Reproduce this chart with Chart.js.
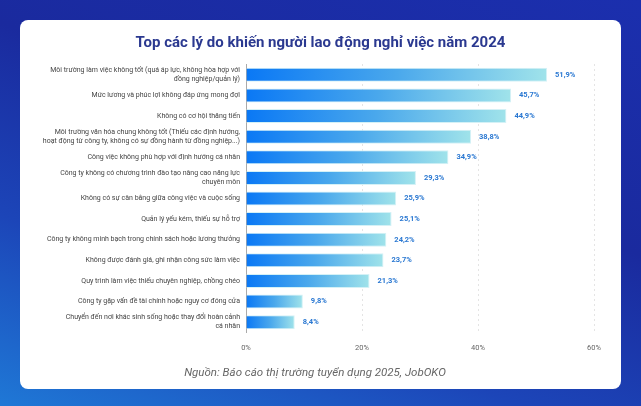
<!DOCTYPE html>
<html lang="vi">
<head>
<meta charset="utf-8">
<script src="https://cdn.jsdelivr.net/npm/chart.js@4"></script>
<style>
  html, body {
    margin: 0;
    padding: 0;
    width: 641px;
    height: 406px;
    overflow: hidden;
    font-family: Roboto, "Noto Sans", sans-serif;
  }
  body {
    background: linear-gradient(20deg, #1f78d6 0%, #1c45b8 30%, #1a2a9e 60%, #1b2fae 100%);
    position: relative;
  }
  .card {
    position: absolute;
    left: 20px;
    top: 20px;
    width: 601px;
    height: 369px;
    background: #fff;
    border-radius: 8px;
  }
  .card canvas {
    display: block;
    position: absolute;
    left: 0;
    top: 0;
  }
  .title {
    position: absolute;
    left: 0;
    top: 13px;
    width: 601px;
    line-height: 18px;
    text-align: center;
    font-size: 15px;
    font-weight: bold;
    color: #2b3990;
  }
  .source {
    position: absolute;
    left: 0;
    top: 344px;
    width: 590px;
    line-height: 16px;
    text-align: center;
    font-size: 11.5px;
    font-style: italic;
    color: #666666;
  }
</style>
</head>
<body>
<div class="card">
  <canvas id="chart" width="601" height="369"></canvas>
  <div class="title" id="title"></div>
  <div class="source" id="source"></div>
</div>
<script>
const titleText = "Top các lý do khiến người lao động nghỉ việc năm 2024";
const sourceText = "Nguồn: Báo cáo thị trường tuyển dụng 2025, JobOKO";

const reasons = [
  ["Môi trường làm việc không tốt (quá áp lực, không hòa hợp với", "đồng nghiệp/quản lý)"],
  "Mức lương và phúc lợi không đáp ứng mong đợi",
  "Không có cơ hội thăng tiến",
  ["Môi trường văn hóa chung không tốt (Thiếu các định hướng,", "hoạt động từ công ty, không có sự đồng hành từ đồng nghiệp...)"],
  "Công việc không phù hợp với định hướng cá nhân",
  ["Công ty không có chương trình đào tạo nâng cao năng lực", "chuyên môn"],
  "Không có sự cân bằng giữa công việc và cuộc sống",
  "Quản lý yếu kém, thiếu sự hỗ trợ",
  "Công ty không minh bạch trong chính sách hoặc lương thưởng",
  "Không được đánh giá, ghi nhận công sức làm việc",
  "Quy trình làm việc thiếu chuyên nghiệp, chồng chéo",
  "Công ty gặp vấn đề tài chính hoặc nguy cơ đóng cửa",
  ["Chuyển đến nơi khác sinh sống hoặc thay đổi hoàn cảnh", "cá nhân"],
];

const percents = [51.9, 45.7, 44.9, 38.8, 34.9, 29.3, 25.9, 25.1, 24.2, 23.7, 21.3, 9.8, 8.4];

const xTicks = [0, 20, 40, 60];

document.getElementById("title").textContent = titleText;
document.getElementById("source").textContent = sourceText;

function fmt(v) {
  return v.toFixed(1).replace(".", ",") + "%";
}

// gradient per bar, from the zero line to the bar end
function barGradient(context) {
  const chart = context.chart;
  const x = chart.scales.x;
  if (!chart.chartArea || !x) return "#1a86f0";
  const v = context.raw || 0;
  const x0 = x.getPixelForValue(0);
  const x1 = x.getPixelForValue(v);
  if (x1 - x0 < 1) return "#0a78f5";
  const g = chart.ctx.createLinearGradient(x0, 0, x1, 0);
  g.addColorStop(0, "#0a78f5");
  g.addColorStop(0.5, "#4aa8ec");
  g.addColorStop(1, "#a0e3ea");
  return g;
}

const valueLabels = {
  id: "valueLabels",
  afterDatasetsDraw(chart) {
    const ctx = chart.ctx;
    const meta = chart.getDatasetMeta(0);
    ctx.save();
    ctx.font = "bold 7.5px Roboto, sans-serif";
    ctx.fillStyle = "#2a78d2";
    ctx.textAlign = "left";
    ctx.textBaseline = "middle";
    meta.data.forEach((bar, i) => {
      ctx.fillText(fmt(percents[i]), bar.x + 8, bar.y);
    });
    ctx.restore();
  },
};

new Chart(document.getElementById("chart").getContext("2d"), {
  type: "bar",
  data: {
    labels: reasons,
    datasets: [
      {
        data: percents,
        backgroundColor: barGradient,
        borderColor: "#d4f1f6",
        borderWidth: 1,
        borderSkipped: "left",
        barPercentage: 0.85,
        categoryPercentage: 0.8,
      },
    ],
  },
  options: {
    indexAxis: "y",
    responsive: false,
    animation: false,
    layout: { padding: { left: 0, right: 27, top: 44.5, bottom: 24.5 } },
    plugins: {
      legend: { display: false },
      tooltip: { enabled: false },
    },
    scales: {
      x: {
        min: 0,
        max: 60,
        afterBuildTicks(scale) {
          scale.ticks = xTicks.map((v) => ({ value: v }));
        },
        ticks: {
          color: "#666666",
          font: { family: "Roboto", size: 7.5 },
          padding: 11.5,
          callback: (v) => v + "%",
        },
        grid: {
          color: "#c8c8c8",
          drawTicks: false,
        },
        border: { display: false, dash: [1, 4] },
      },
      y: {
        afterFit(scale) {
          scale.width = 226;
        },
        ticks: {
          color: "#444444",
          font: { family: "Roboto", size: 7, lineHeight: 1.3 },
          padding: 6,
          autoSkip: false,
        },
        grid: { display: false, drawTicks: false },
        border: { display: true, color: "#aaaaaa", width: 1 },
      },
    },
  },
  plugins: [valueLabels],
});
</script>
</body>
</html>
